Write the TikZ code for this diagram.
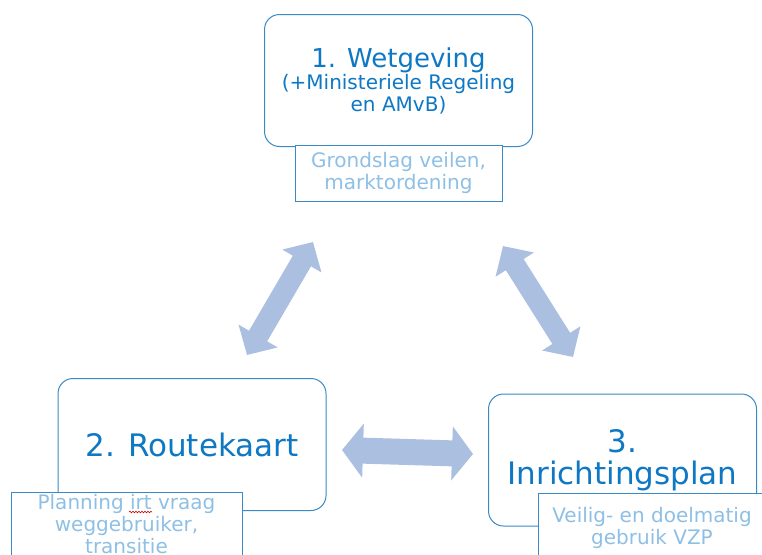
\documentclass[tikz,border=0pt]{standalone}
\usepackage{fontspec}
\setmainfont{DejaVu Sans}
\usetikzlibrary{arrows.meta,decorations.pathmorphing}
\definecolor{mainblue}{HTML}{0E78C4}
\definecolor{boxblue}{HTML}{3A8AC6}
\definecolor{subblue}{HTML}{8EC0E6}
\definecolor{arrowblue}{HTML}{ABBFE0}
\begin{document}
\begin{tikzpicture}[
    x=1pt, y=-1pt,
    mainbox/.style={rectangle, draw=boxblue, line width=1pt, rounded corners=15pt, fill=white, minimum width=268pt, minimum height=132pt, align=center, text=mainblue, font=\fontsize{31}{32}\selectfont},
    subbox/.style={rectangle, draw=boxblue, line width=1pt, fill=white, inner sep=0pt, align=center, text=subblue, font=\fontsize{20}{22}\selectfont},
    link/.style={arrowblue, line width=21pt, {Triangle[length=22pt,width=44pt]}-{Triangle[length=22pt,width=44pt]}},
    wide link/.style={arrowblue, line width=26pt, {Triangle[length=21pt,width=53pt]}-{Triangle[length=21pt,width=53pt]}},
    spell/.style={red!80!black, line width=0.6pt, decorate, decoration={snake, amplitude=0.8pt, segment length=3pt}}
]
\useasboundingbox (0,0) rectangle (762,554);

% Main boxes
\node[mainbox, font=\fontsize{26}{22}\selectfont] (wet) at (398.5,80.5) {1. Wetgeving\\{\fontsize{20}{22}\selectfont (+Ministeriele Regeling}\\{\fontsize{20}{22}\selectfont en AMvB)}};
\node[mainbox] (route) at (192,444.5) {2. Routekaart};
\node[mainbox] (inricht) at (622.5,460) {3.\\Inrichtingsplan};

% Sub boxes
\node[subbox, minimum width=207pt, minimum height=56pt] (wetsub) at (398.5,173) {Grondslag veilen,\\marktordening};
\node[subbox, minimum width=231pt, minimum height=64pt] (routesub) at (126.5,524) {Planning irt vraag\\weggebruiker,\\transitie};
\node[subbox, minimum width=228pt, minimum height=70pt] (inrichtsub) at (652,528) {Veilig- en doelmatig\\gebruik VZP};

% Spelling mark under "irt"
\coordinate (s1) at (129,512);
\coordinate (s2) at (152,512);
\draw[spell] (s1) -- (s2);

% Arrow ends
\coordinate (a1) at (247,355);
\coordinate (a2) at (313,242);
\coordinate (b1) at (503,246);
\coordinate (b2) at (573,357);
\coordinate (c1) at (342,450);
\coordinate (c2) at (473,454);

% Arrows between the boxes
\draw[link] (a1) -- (a2);
\draw[link] (b1) -- (b2);
\draw[wide link] (c1) -- (c2);
\end{tikzpicture}
\end{document}
